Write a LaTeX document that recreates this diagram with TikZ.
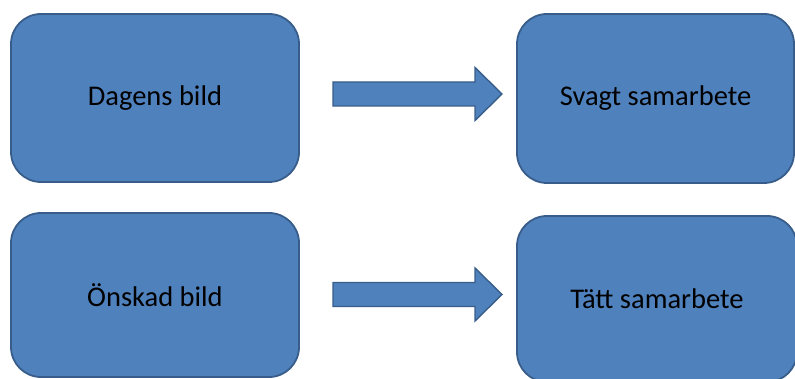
\documentclass[tikz,border=0pt]{standalone}
\usepackage{fontspec}
\setmainfont{Carlito}
\usetikzlibrary{calc}
\definecolor{fyll}{HTML}{4F81BD}
\definecolor{linje}{HTML}{385D8A}
\tikzset{
  ruta/.style={draw=linje, fill=fyll, line width=1.8pt, rounded corners=30pt,
    inner sep=0pt, text=black, font=\fontsize{28.5}{34}\selectfont},
  blockpil/.style={draw=linje, fill=fyll, line width=1.4pt, line join=miter,
    to path={($(\tikztostart)+(0,-12)$) -- ($(\tikztotarget)+(-27,-12)$)
      -- ($(\tikztotarget)+(-27,-26.5)$) -- (\tikztotarget)
      -- ($(\tikztotarget)+(-27,26.5)$) -- ($(\tikztotarget)+(-27,12)$)
      -- ($(\tikztostart)+(0,12)$) -- cycle}}
}
\begin{document}
\begin{tikzpicture}[x=1pt,y=-1pt]
\useasboundingbox (0,0) rectangle (795,379);
% rutor
\node[ruta, minimum width=288pt, minimum height=168pt] (dagens) at (155,98) {Dagens bild};
\node[ruta, minimum width=277pt, minimum height=169pt] (svagt) at (655.5,98.5) {Svagt samarbete};
\node[ruta, minimum width=288pt, minimum height=164pt] (onskad) at (155,295) {Önskad bild};
\node[ruta, minimum width=280pt, minimum height=166pt] (tatt) at (657,299) {Tätt samarbete};
% pilar
\coordinate (p1a) at (333,94);
\coordinate (p1b) at (502,94);
\coordinate (p2a) at (333,294.5);
\coordinate (p2b) at (502,294.5);
\draw[blockpil] (p1a) to (p1b);
\draw[blockpil] (p2a) to (p2b);
\end{tikzpicture}
\end{document}
